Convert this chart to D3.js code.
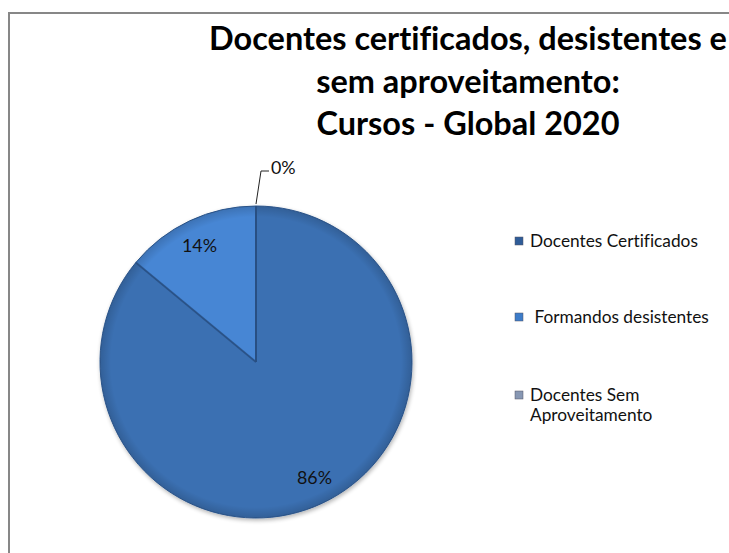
<!DOCTYPE html>
<html><head><meta charset="utf-8">
<script src="https://cdn.jsdelivr.net/npm/d3@7"></script>
<style>html,body{margin:0;padding:0;background:#fff;}svg{display:block;}</style>
</head><body>
<svg id="c" width="729" height="553"></svg>
<script>
const categories = ["Docentes Certificados", " Formandos desistentes", "Docentes Sem Aproveitamento"];
const values = [86, 14, 0];
const labels = ["86%", "14%", "0%"];
const titleLines = ["Docentes certificados, desistentes e", "sem aproveitamento:", "Cursos - Global 2020"];

const svg = d3.select("#c");
const font = "Lato, 'Open Sans', sans-serif";
const defs = svg.append("defs");

function fit(sel, base, target) {
  const w = sel.node().getComputedTextLength();
  return base * target / w;
}

// border
svg.append("path").attr("d", "M9,560 L9,13 L740,13").attr("fill", "none")
  .attr("stroke", "#878787").attr("stroke-width", 2);

// title
const tg = svg.append("g");
const tys = [50, 93, 135];
titleLines.forEach((t, i) => {
  tg.append("text").attr("x", 468).attr("y", tys[i]).attr("text-anchor", "middle")
    .attr("font-family", font).attr("font-weight", "bold").attr("font-size", 28)
    .style("font-variant-ligatures", "none")
    .attr("fill", "#000").text(t);
});
const tfs = fit(tg.select("text"), 28, 518);
tg.selectAll("text").attr("font-size", tfs);

// gradients
const g1 = defs.append("linearGradient").attr("id", "g0").attr("gradientUnits", "userSpaceOnUse")
  .attr("x1", 0).attr("y1", 206).attr("x2", 0).attr("y2", 518);
g1.append("stop").attr("offset", "0").attr("stop-color", "#3a6fb2");
g1.append("stop").attr("offset", "0.5").attr("stop-color", "#3465a6");
g1.append("stop").attr("offset", "1").attr("stop-color", "#2c568e");
const g2 = defs.append("linearGradient").attr("id", "g1").attr("gradientUnits", "userSpaceOnUse")
  .attr("x1", 0).attr("y1", 206).attr("x2", 0).attr("y2", 362);
g2.append("stop").attr("offset", "0").attr("stop-color", "#4686d4");
g2.append("stop").attr("offset", "1").attr("stop-color", "#3a78c4");
const g3 = defs.append("linearGradient").attr("id", "g2");
g3.append("stop").attr("offset", "0").attr("stop-color", "#9fb0c8");
g3.append("stop").attr("offset", "1").attr("stop-color", "#7385a3");
const rim = defs.append("radialGradient").attr("id", "rim").attr("gradientUnits", "userSpaceOnUse")
  .attr("cx", 256).attr("cy", 362).attr("r", 156);
rim.append("stop").attr("offset", "0.93").attr("stop-color", "#000").attr("stop-opacity", 0);
rim.append("stop").attr("offset", "1").attr("stop-color", "#000").attr("stop-opacity", 0.15);
const sh = defs.append("filter").attr("id", "sh").attr("x", "-20%").attr("y", "-20%").attr("width", "140%").attr("height", "140%");
sh.append("feGaussianBlur").attr("in", "SourceAlpha").attr("stdDeviation", 2);
sh.append("feOffset").attr("dx", 1).attr("dy", 2).attr("result", "b");
sh.append("feComponentTransfer").append("feFuncA").attr("type", "linear").attr("slope", 0.3);
const mg = sh.append("feMerge");
mg.append("feMergeNode");
mg.append("feMergeNode").attr("in", "SourceGraphic");

const cx = 256, cy = 362, R = 156;
const pie = d3.pie().sort(null).value(d => d)(values);
const arc = d3.arc().innerRadius(0).outerRadius(R);
const pg = svg.append("g").attr("transform", `translate(${cx},${cy})`);
const shadowG = svg.append("g").attr("filter", "url(#sh)");
shadowG.selectAll("path.s").data(pie).join("path").attr("class", "s")
  .attr("d", arc).attr("fill", (d, i) => `url(#g${i})`)
  .attr("transform", `translate(${cx},${cy})`)
  .attr("stroke", "#2f5a92").attr("stroke-width", 1).attr("stroke-linejoin", "round");
svg.append("circle").attr("cx", cx).attr("cy", cy).attr("r", R).attr("fill", "url(#rim)");

// separator lines
pie.forEach(d => {
  const a = d.startAngle;
  svg.append("line").attr("x1", cx).attr("y1", cy)
    .attr("x2", cx + R * Math.sin(a)).attr("y2", cy - R * Math.cos(a))
    .attr("stroke", "#284f82").attr("stroke-width", 2).attr("stroke-opacity", 0.8);
});

// labels
const lab = d3.arc().innerRadius(R * 0.82).outerRadius(R * 0.82);
let lfs = null;
pie.forEach((d, i) => {
  const t = svg.append("text").attr("font-family", font).attr("font-size", 16).attr("fill", "#111").text(labels[i]);
  if (lfs === null) lfs = fit(t, 16, 35);
  t.attr("font-size", lfs);
  if (d.value > 0) {
    const [x, y] = lab.centroid(d);
    t.attr("x", cx + x + (x > 0 ? 4 : -2)).attr("y", cy + y + 6).attr("text-anchor", "middle");
  } else {
    const a = d.startAngle;
    const x0 = cx + R * Math.sin(a), y0 = cy - R * Math.cos(a);
    svg.append("path").attr("d", `M${x0},${y0 - 2} L${x0 + 5},171 L${x0 + 13},171`)
      .attr("fill", "none").attr("stroke", "#222").attr("stroke-width", 1);
    t.attr("x", x0 + 15).attr("y", 174);
  }
});

// legend
const ly = [241, 317, 395];
const lcols = ["#2f5c98", "#3d7cc9", "#8797b3"];
let legfs = null;
categories.forEach((c, i) => {
  const g = svg.append("g");
  g.append("rect").attr("x", 515).attr("y", ly[i] - 4).attr("width", 8).attr("height", 8)
    .attr("fill", lcols[i]).attr("stroke", "#556").attr("stroke-width", 0.5);
  const t = g.append("text").attr("font-family", font).attr("font-size", 16).attr("fill", "#111")
    .attr("xml:space", "preserve").style("font-variant-ligatures", "none");
  if (legfs === null) {
    t.text(c);
    legfs = fit(t, 16, 168);
    t.text(null);
  }
  t.attr("font-size", legfs);
  if (i === 2) {
    t.append("tspan").attr("x", 530).attr("y", ly[i] + 6).text("Docentes Sem");
    t.append("tspan").attr("x", 530).attr("y", ly[i] + 26).text("Aproveitamento");
  } else {
    t.attr("x", 530).attr("y", ly[i] + 6).text(c);
  }
});
</script>
</body></html>
